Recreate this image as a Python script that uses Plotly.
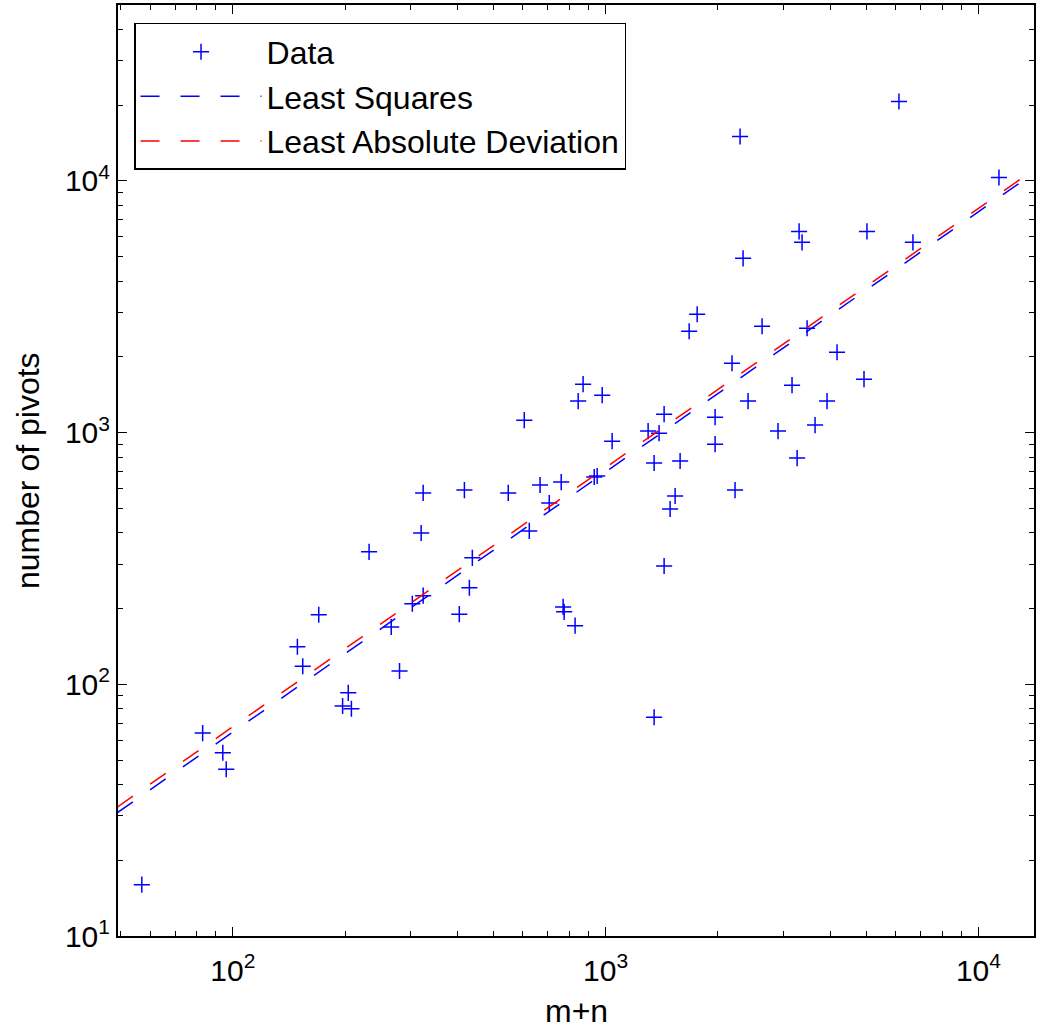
import plotly.graph_objects as go

# ---- data (m+n vs number of pivots) ----
m_plus_n = [57, 83, 94, 96, 149, 154, 170, 204, 197, 208,
            232, 280, 266, 303, 324, 320, 324, 405, 431, 439,
            418, 548, 624, 605, 667, 706, 760, 769, 774, 828,
            844, 870, 979, 932, 949, 1041, 1300, 1349, 1391, 1349,
            1435, 1435, 1489, 1536, 1584, 1675, 1760, 1966, 1966, 2183,
            2224, 2294, 2337, 2410, 2628, 2900, 3162, 3263, 3303, 3364,
            3470, 3645, 3925, 4175, 4932, 5023, 6120, 6672, 11350]
pivots = [16, 64, 53.5, 46, 141, 118, 189, 92.5, 82, 80,
          336, 113, 169, 209, 225, 399, 576, 190, 242, 318,
          591, 576, 407, 1121, 619, 525, 636, 203, 194, 171,
          1334, 1558, 1409, 666, 672, 925, 1014, 757, 995, 74,
          1184, 295, 497, 560, 771, 2528, 2953, 1152, 900, 1887,
          591, 15020, 4925, 1334, 2646, 1014, 1544, 792, 6302, 5702,
          2598, 1071, 1334, 2086, 1631, 6302, 20680, 5702, 10325]

# fitted lines (end points)
ls_x = [40, 16000]
ls_y = [25.05, 12262]
lad_x = [40, 16000]
lad_y = [26.4, 12629]

x_tickvals = [100, 1000, 10000]
x_ticktext = ["10<sup>2</sup>", "10<sup>3</sup>", "10<sup>4</sup>"]
y_tickvals = [10, 100, 1000, 10000]
y_ticktext = ["10<sup>1</sup>", "10<sup>2</sup>", "10<sup>3</sup>", "10<sup>4</sup>"]
x_title = "m+n"
y_title = "number of pivots"

FONT = "Liberation Sans, Arial, Helvetica, sans-serif"

fig = go.Figure()
fig.add_trace(go.Scatter(
    x=m_plus_n, y=pivots, mode="markers", name="Data",
    marker=dict(symbol="cross-thin", size=11.5, color="#0000FF",
                line=dict(width=1.5, color="#0000FF")),
))
fig.add_trace(go.Scatter(
    x=ls_x, y=ls_y, mode="lines", name="Least Squares",
    line=dict(color="#0000FF", width=1.5, dash="19px,21px"),
))
fig.add_trace(go.Scatter(
    x=lad_x, y=lad_y, mode="lines", name="Least Absolute Deviation",
    line=dict(color="#FF0000", width=1.5, dash="19px,21px"),
))

axis_common = dict(
    type="log", showgrid=False, zeroline=False, automargin=False,
    showline=True, linecolor="black", linewidth=2, mirror="allticks",
    ticks="inside", ticklen=9, tickwidth=1, tickcolor="black",
    tickfont=dict(family=FONT, size=30, color="black"),
    minor=dict(ticks="inside", ticklen=5, tickwidth=1, tickcolor="black",
               dtick="D1", showgrid=False),
    tickmode="array",
)

fig.update_layout(
    width=1037, height=1031,
    margin=dict(l=118, r=3, t=5, b=95, autoexpand=False),
    paper_bgcolor="white", plot_bgcolor="white",
    font=dict(family=FONT, size=32, color="black"),
    showlegend=True,
    legend=dict(
        x=0.0175, y=0.9807, xanchor="left", yanchor="top",
        bgcolor="white", bordercolor="black", borderwidth=1.5,
        font=dict(family=FONT, size=32, color="black"),
        itemwidth=121, tracegroupgap=0,
    ),
    xaxis=dict(axis_common, range=[1.692, 4.149],
               tickvals=x_tickvals, ticktext=x_ticktext,
               ticklabelstandoff=7),
    yaxis=dict(axis_common, range=[1, 4.699],
               tickvals=y_tickvals, ticktext=y_ticktext),
    annotations=[
        dict(text=x_title, xref="paper", yref="paper", x=0.5, y=-0.0805,
             xanchor="center", yanchor="middle", showarrow=False,
             font=dict(family=FONT, size=32, color="black")),
        dict(text=y_title, xref="paper", yref="paper", x=-0.0988, y=0.5,
             xanchor="center", yanchor="middle", textangle=-90, showarrow=False,
             font=dict(family=FONT, size=32, color="black")),
    ],
)

fig.write_html(
    "out.html",
    config={"displayModeBar": False},
    post_script="document.body.style.margin='0';document.body.style.overflow='hidden';",
)
